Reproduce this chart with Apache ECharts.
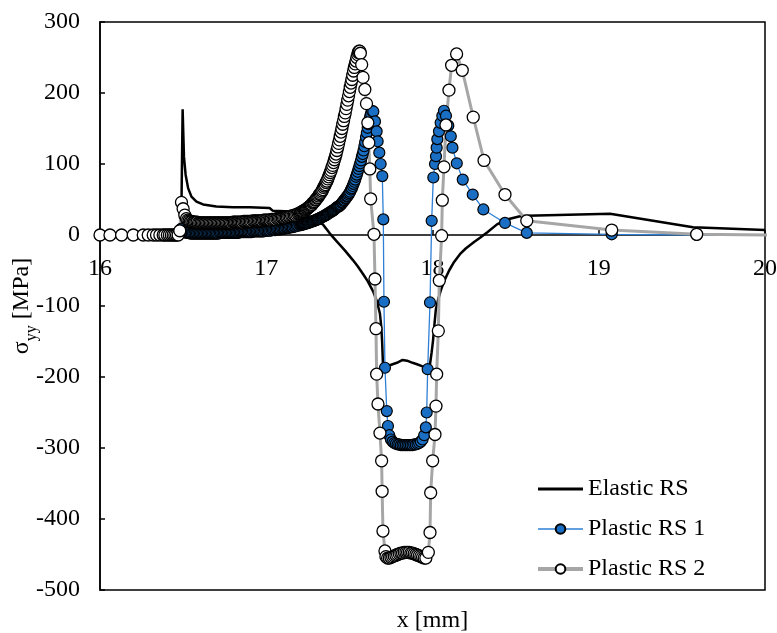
<!DOCTYPE html>
<html>
<head>
<meta charset="utf-8">
<script src="https://cdn.jsdelivr.net/npm/echarts@6/dist/echarts.min.js"></script>
<style>
  html, body { margin: 0; padding: 0; background: #fff; }
  #chart { width: 777px; height: 633px; }
</style>
</head>
<body>
<div id="chart"></div>
<script>
// [x (mm), sigma_yy (MPa)]
const elastic = [
  [16.0, 0], [16.47, 0], [16.488, 4], [16.497, 177], [16.505, 110], [16.515, 85], [16.53, 66],
  [16.55, 54], [16.58, 47], [16.62, 43], [16.7, 40], [16.8, 39], [16.9, 39], [17.02, 38],
  [17.04, 34], [17.15, 33], [17.22, 30], [17.28, 24], [17.34, 15], [17.36, 9], [17.383, 2],
  [17.42, -8], [17.474, -22], [17.52, -35], [17.55, -44], [17.582, -55], [17.61, -65],
  [17.642, -79], [17.665, -93], [17.684, -111], [17.692, -130], [17.697, -150], [17.702, -182],
  [17.726, -185], [17.76, -182], [17.786, -180], [17.82, -176], [17.847, -177], [17.88, -180],
  [17.907, -182], [17.94, -185], [17.967, -187], [17.985, -182], [17.995, -165], [18.003, -149],
  [18.01, -130], [18.02, -105], [18.035, -90], [18.05, -78], [18.07, -65], [18.1, -50],
  [18.13, -38], [18.165, -27], [18.2, -19], [18.25, -10], [18.286, -4], [18.33, 4],
  [18.388, 15], [18.43, 20], [18.466, 23], [18.52, 26], [18.568, 27], [19.068, 30],
  [19.567, 11], [20.0, 7]
];

// dense mesh band 16.52 - 17.20 mm, shared x positions
const bandX = [
  16.52, 16.528, 16.536, 16.544, 16.552, 16.56, 16.568, 16.576, 16.584, 16.592,
  16.6, 16.608, 16.616, 16.624, 16.632, 16.64, 16.648, 16.656, 16.664, 16.672,
  16.68, 16.688, 16.696, 16.704, 16.712, 16.72, 16.728, 16.736, 16.744, 16.752,
  16.76, 16.768, 16.776, 16.784, 16.792, 16.8, 16.808, 16.816, 16.824, 16.832,
  16.84, 16.848, 16.856, 16.864, 16.872, 16.88, 16.888, 16.896, 16.904, 16.912,
  16.92, 16.928, 16.936, 16.944, 16.952, 16.96, 16.968, 16.976, 16.984, 16.992,
  17.0, 17.008, 17.016, 17.024, 17.032, 17.04, 17.048, 17.056, 17.064, 17.072,
  17.08, 17.088, 17.096, 17.104, 17.112, 17.12, 17.128, 17.136, 17.144, 17.152,
  17.16, 17.168, 17.176, 17.184, 17.192, 17.2
];
const band1Y = [
  3, 3, 3, 2, 2, 2, 2, 2, 2, 2,
  2, 2, 2, 2, 2, 2, 2, 2, 2, 2,
  2, 2, 2, 2, 2, 3, 3, 3, 3, 3,
  3, 3, 3, 3, 3, 3, 3, 3, 3, 3,
  4, 4, 4, 4, 4, 4, 4, 4, 4, 4,
  5, 5, 5, 5, 5, 5, 5, 5, 5, 6,
  6, 6, 6, 6, 7, 7, 7, 7, 8, 8,
  8, 8, 9, 9, 9, 10, 10, 10, 11, 11,
  11, 12, 12, 13, 13, 14
];
const band2Y = [
  23, 21, 20, 19, 19, 18, 18, 18, 18, 17,
  17, 17, 17, 17, 17, 17, 17, 17, 17, 17,
  17, 17, 17, 17, 17, 17, 17, 17, 17, 17,
  17, 17, 17, 17, 17, 18, 18, 18, 18, 18,
  18, 18, 18, 19, 19, 19, 19, 19, 19, 19,
  20, 20, 20, 20, 20, 20, 20, 20, 21, 21,
  21, 21, 21, 21, 22, 22, 22, 22, 23, 23,
  23, 23, 24, 24, 24, 25, 25, 26, 26, 27,
  27, 28, 28, 29, 30, 30
];

const plastic1Left = [
  [16.0, 0], [16.13, 0], [16.26, 0], [16.36, 0], [16.42, 0], [16.46, 0], [16.48, 3], [16.49, 9],
  [16.5, 6], [16.51, 4]
];
const plastic1Right = [
  [17.205, 14], [17.21, 14], [17.215, 15], [17.22, 15], [17.225, 15], [17.23, 16], [17.235, 16],
  [17.24, 16], [17.245, 17], [17.25, 17], [17.255, 17], [17.26, 18], [17.265, 18], [17.27, 19],
  [17.275, 19], [17.28, 19], [17.285, 20], [17.29, 20], [17.295, 21], [17.3, 21], [17.305, 22],
  [17.31, 22], [17.315, 23], [17.32, 23], [17.325, 24], [17.33, 25], [17.335, 25], [17.34, 26],
  [17.345, 26], [17.35, 27], [17.355, 28], [17.36, 28], [17.365, 29], [17.37, 30], [17.375, 31],
  [17.38, 31], [17.385, 32], [17.39, 33], [17.395, 34], [17.4, 34], [17.405, 35], [17.41, 36],
  [17.415, 37], [17.42, 38], [17.425, 39], [17.43, 40], [17.435, 40], [17.44, 41], [17.445, 42],
  [17.45, 43], [17.455, 45], [17.46, 46], [17.465, 48], [17.47, 49], [17.475, 51], [17.48, 52],
  [17.485, 54], [17.49, 55], [17.495, 57], [17.5, 59], [17.505, 61], [17.51, 64], [17.515, 66],
  [17.52, 69], [17.525, 72], [17.53, 75], [17.535, 78], [17.54, 82], [17.545, 85], [17.55, 89],
  [17.555, 93], [17.56, 97], [17.565, 101], [17.57, 105], [17.575, 110], [17.58, 114],
  [17.585, 119], [17.59, 125], [17.595, 131], [17.6, 138], [17.605, 144], [17.61, 151],
  [17.615, 156], [17.62, 162], [17.625, 167], [17.63, 171], [17.636, 175], [17.644, 174],
  [17.654, 160], [17.664, 146], [17.67, 132], [17.68, 116], [17.688, 100], [17.698, 83],
  [17.704, 22], [17.708, -94], [17.714, -187], [17.725, -248], [17.732, -269], [17.74, -282],
  [17.75, -288], [17.76, -291], [17.77, -293], [17.78, -294], [17.79, -295], [17.8, -295],
  [17.81, -296], [17.82, -296], [17.83, -296], [17.84, -296], [17.85, -296], [17.86, -296],
  [17.87, -296], [17.88, -296], [17.89, -295], [17.9, -295], [17.91, -294], [17.92, -293],
  [17.93, -291], [17.94, -288], [17.95, -282], [17.96, -271], [17.965, -250], [17.971, -189],
  [17.985, -95], [17.995, 20], [18.005, 81], [18.015, 100], [18.021, 111], [18.025, 123],
  [18.029, 135], [18.039, 146], [18.049, 158], [18.059, 168], [18.069, 175], [18.081, 168],
  [18.095, 154], [18.11, 139], [18.12, 123], [18.146, 101], [18.182, 78], [18.242, 57],
  [18.306, 36], [18.436, 17], [18.567, 3], [19.078, 1], [19.589, 0], [20.1, 0]
];

const plastic2Left = [
  [16.0, 0], [16.06, 0], [16.13, 0], [16.2, 0], [16.26, 0], [16.29, 0], [16.32, 0], [16.34, 0],
  [16.36, 0], [16.38, 0], [16.39, 0], [16.405, 0], [16.417, 0], [16.429, 0], [16.44, 0],
  [16.45, 0], [16.46, 0], [16.47, 0], [16.48, 6], [16.49, 46], [16.5, 37], [16.51, 28]
];
const plastic2Right = [
  [17.205, 31], [17.21, 32], [17.215, 33], [17.22, 33], [17.225, 34], [17.23, 35], [17.235, 35],
  [17.24, 36], [17.245, 37], [17.25, 38], [17.255, 39], [17.26, 40], [17.265, 41], [17.27, 42],
  [17.275, 43], [17.28, 45], [17.285, 46], [17.29, 47], [17.295, 49], [17.3, 50], [17.305, 52],
  [17.31, 53], [17.315, 55], [17.32, 57], [17.325, 58], [17.33, 60], [17.335, 62], [17.34, 64],
  [17.345, 67], [17.35, 69], [17.355, 71], [17.36, 74], [17.365, 76], [17.37, 79], [17.375, 82],
  [17.38, 85], [17.385, 88], [17.39, 91], [17.395, 95], [17.4, 98], [17.405, 102], [17.41, 106],
  [17.415, 110], [17.42, 114], [17.425, 119], [17.43, 124], [17.435, 129], [17.44, 134],
  [17.445, 139], [17.45, 145], [17.455, 150], [17.46, 156], [17.465, 161], [17.47, 167],
  [17.475, 172], [17.48, 178], [17.485, 184], [17.49, 190], [17.495, 196], [17.5, 202],
  [17.505, 208], [17.51, 214], [17.515, 219], [17.52, 225], [17.525, 231], [17.53, 236],
  [17.535, 241], [17.54, 245], [17.545, 250], [17.55, 254], [17.554, 257], [17.558, 259],
  [17.562, 259], [17.566, 256], [17.574, 240], [17.582, 222], [17.593, 205], [17.603, 185],
  [17.611, 158], [17.617, 130], [17.623, 93], [17.628, 51], [17.648, 1], [17.654, -62],
  [17.66, -132], [17.664, -196], [17.672, -238], [17.684, -279], [17.694, -318], [17.697, -361],
  [17.702, -417], [17.714, -445], [17.72, -453], [17.73, -455], [17.74, -455], [17.75, -454],
  [17.76, -453], [17.77, -452], [17.78, -451], [17.79, -450], [17.8, -449], [17.81, -448],
  [17.82, -448], [17.83, -447], [17.84, -447], [17.85, -447], [17.86, -447], [17.87, -448],
  [17.88, -448], [17.89, -449], [17.9, -450], [17.91, -451], [17.92, -452], [17.93, -453],
  [17.94, -454], [17.95, -455], [17.96, -455], [17.975, -447], [17.985, -419], [17.989, -363],
  [18.001, -318], [18.015, -281], [18.021, -241], [18.025, -196], [18.035, -135], [18.041, -64],
  [18.055, -1], [18.059, 49], [18.069, 96], [18.081, 155], [18.099, 204], [18.115, 239],
  [18.145, 255], [18.179, 232], [18.245, 166], [18.31, 105], [18.436, 57], [18.567, 20],
  [19.078, 7], [19.589, 1], [20.1, 0]
];

const plastic1 = plastic1Left.concat(bandX.map((x, i) => [x, band1Y[i]]), plastic1Right);
const plastic2 = plastic2Left.concat(bandX.map((x, i) => [x, band2Y[i]]), plastic2Right);

const seriesNames = ['Elastic RS', 'Plastic RS 1', 'Plastic RS 2'];

const font = 'Liberation Serif, Times New Roman, serif';
let chart = echarts.init(document.getElementById('chart'));
chart.setOption({
    animation: false,
    backgroundColor: '#fff',
    grid: {
        left: 100, right: 12, top: 22, bottom: 43,
        containLabel: false,
        outerBoundsMode: 'none',
        show: true,
        borderColor: '#000',
        borderWidth: 1.5
    },
    legend: {
        data: [
            {name: seriesNames[0], itemStyle: {opacity: 0}, lineStyle: {width: 3}},
            {name: seriesNames[1], lineStyle: {width: 1.5}},
            {name: seriesNames[2], lineStyle: {width: 4}}
        ],
        orient: 'vertical',
        left: 531,
        top: 472,
        itemWidth: 45,
        itemHeight: 12,
        itemGap: 16,
        textStyle: {fontFamily: font, fontSize: 24, color: '#000'}
    },
    xAxis: {
        type: 'value',
        min: 16, max: 20, interval: 1,
        // axis drawn across the zero line (355 px above the bottom edge)
        offset: -355,
        name: 'x [mm]',
        nameLocation: 'middle',
        nameGap: 374,
        nameMoveOverlap: false,
        nameTextStyle: {fontFamily: font, fontSize: 24, color: '#000'},
        axisLine: {onZero: false, lineStyle: {color: '#000', width: 1.5}},
        axisTick: {inside: true, length: 5, lineStyle: {color: '#000', width: 1.5}},
        axisLabel: {fontFamily: font, fontSize: 24, color: '#000', margin: 22},
        splitLine: {show: false}
    },
    yAxis: {
        type: 'value',
        min: -500, max: 300, interval: 100,
        name: 'σ{sub|yy} [MPa]',
        nameLocation: 'middle',
        nameGap: 66,
        nameMoveOverlap: false,
        nameTextStyle: {
            fontFamily: font, fontSize: 24, color: '#000',
            rich: {
                sub: {fontFamily: font, fontSize: 16, color: '#000', verticalAlign: 'bottom', lineHeight: 16, padding: [0, 0, -6, 0]}
            }
        },
        axisLine: {lineStyle: {color: '#000', width: 1.5}},
        axisTick: {inside: true, length: 5, lineStyle: {color: '#000', width: 1.5}},
        axisLabel: {
            fontFamily: font, fontSize: 24, color: '#000', margin: 20,
            formatter: function (v) { return String(v); }
        },
        splitLine: {show: false}
    },
    series: [
        {
            name: 'Elastic RS',
            type: 'line',
            data: elastic,
            symbol: 'none',
            lineStyle: {color: '#000', width: 2.5},
            itemStyle: {color: '#000'}
        },
        {
            name: 'Plastic RS 1',
            type: 'line',
            data: plastic1,
            symbol: 'circle',
            symbolSize: 11,
            showAllSymbol: true,
            lineStyle: {color: '#2e7fd6', width: 1.3},
            itemStyle: {color: '#1a6fc4', borderColor: '#000', borderWidth: 1.2}
        },
        {
            name: 'Plastic RS 2',
            type: 'line',
            data: plastic2,
            symbol: 'circle',
            symbolSize: 12,
            showAllSymbol: true,
            lineStyle: {color: '#a6a6a6', width: 3},
            itemStyle: {color: '#fff', borderColor: '#000', borderWidth: 1.3}
        }
    ]
});
</script>
</body>
</html>
